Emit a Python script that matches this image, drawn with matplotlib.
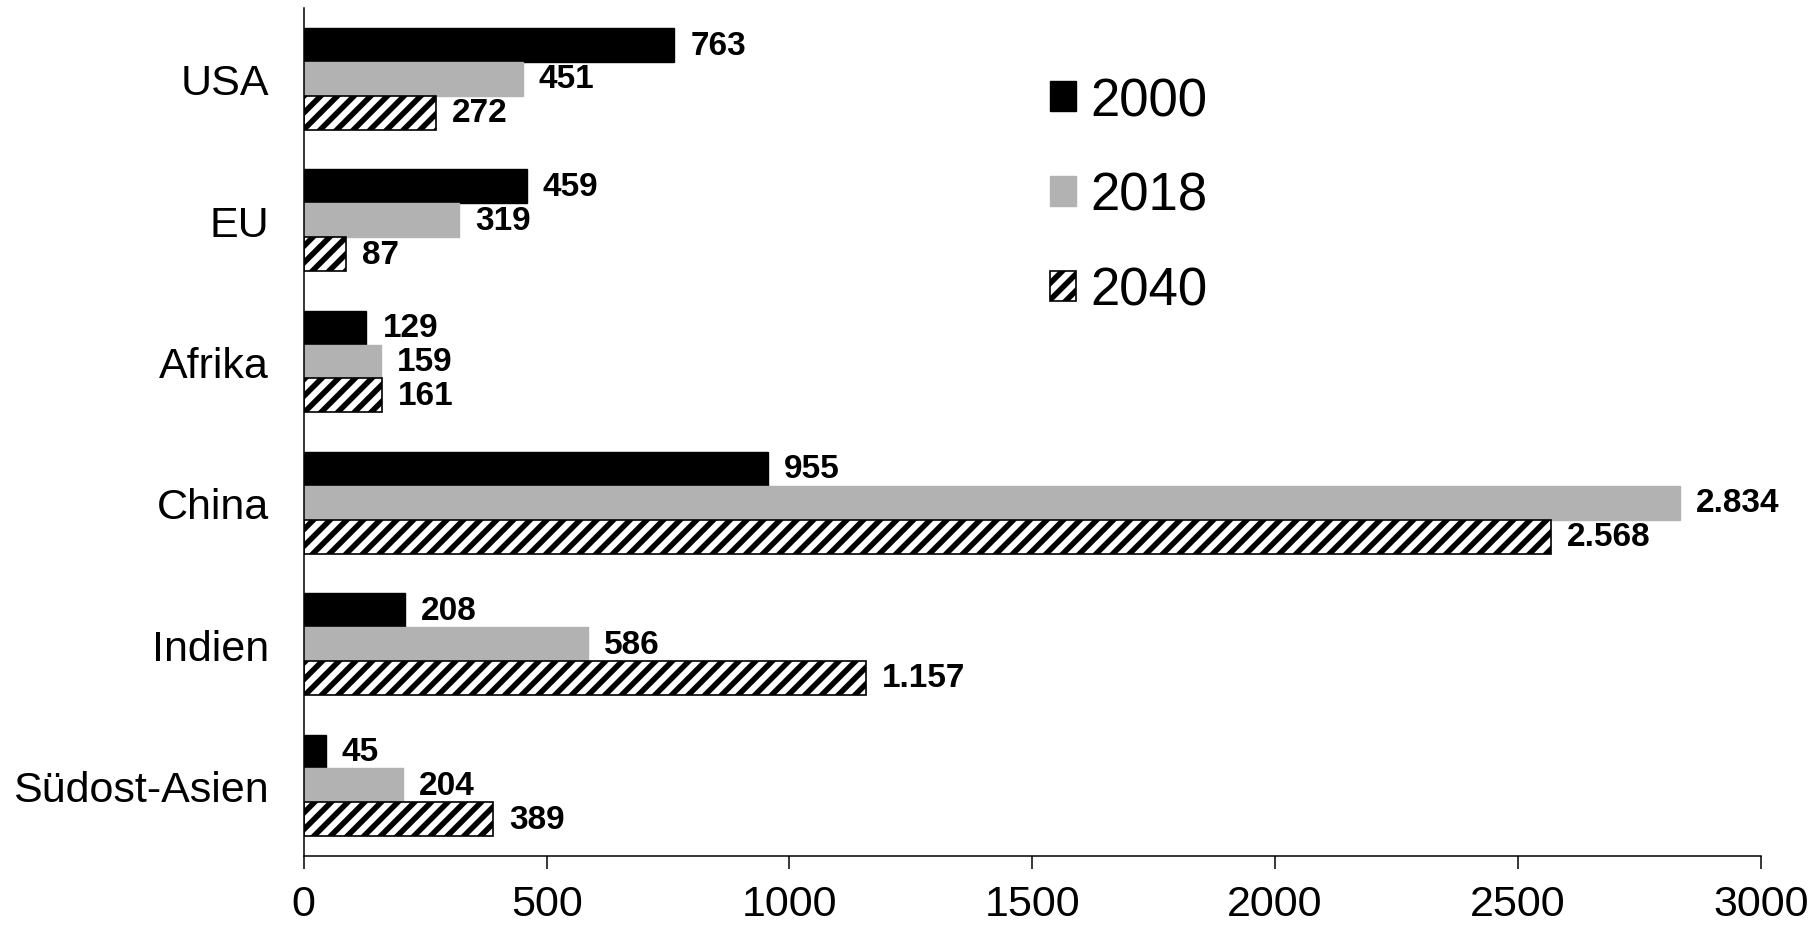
import matplotlib.pyplot as plt
import numpy as np

plt.rcParams['font.family'] = ['Liberation Sans', 'DejaVu Sans']
plt.rcParams['hatch.linewidth'] = 4

# Daten
regionen = ['USA', 'EU', 'Afrika', 'China', 'Indien', 'Südost-Asien']
jahre = ['2000', '2018', '2040']
werte_2000 = [763, 459, 129, 955, 208, 45]
werte_2018 = [451, 319, 159, 2834, 586, 204]
werte_2040 = [272, 87, 161, 2568, 1157, 389]


def fmt_de(v):
    # Tausenderpunkt wie im Original
    return f'{v:,}'.replace(',', '.')


fig = plt.figure(figsize=(18.19, 9.28), dpi=100)
ax = fig.add_axes([0.167, 0.0765, 0.801, 0.9135])

y = np.arange(len(regionen))
h = 0.24
serien = [
    (werte_2000, dict(color='black', edgecolor='black')),
    (werte_2018, dict(color='#b2b2b2', edgecolor='#b2b2b2')),
    (werte_2040, dict(facecolor='white', edgecolor='black', hatch='//', linewidth=1.2)),
]

for i, (werte, stil) in enumerate(serien):
    pos = y + (i - 1) * h
    bars = ax.barh(pos, werte, height=h, label=jahre[i], **stil)
    for b, v in zip(bars, werte):
        ax.text(b.get_width() + 33, b.get_y() + h / 2, fmt_de(v),
                va='center', ha='left', fontsize=24, fontweight='bold')

ax.set_ylim(len(regionen) - 0.5, -0.5)
ax.set_xlim(0, 3000)
ax.set_yticks(y)
ax.set_yticklabels(regionen)
ax.set_xticks([0, 500, 1000, 1500, 2000, 2500, 3000])

ax.tick_params(axis='y', length=0, pad=25, labelsize=31)
ax.tick_params(axis='x', length=9.5, width=1.1, direction='out', pad=11, labelsize=31)

for s in ['top', 'right']:
    ax.spines[s].set_visible(False)
for s in ['left', 'bottom']:
    ax.spines[s].set_linewidth(1.1)

ax.legend(loc='upper left', bbox_to_anchor=(0.512, 0.92), frameon=False,
          fontsize=38, handlelength=0.5, handleheight=0.5,
          handletextpad=0.26, labelspacing=0.85, borderaxespad=0,
          borderpad=0)

plt.savefig('out.png', dpi=100)
